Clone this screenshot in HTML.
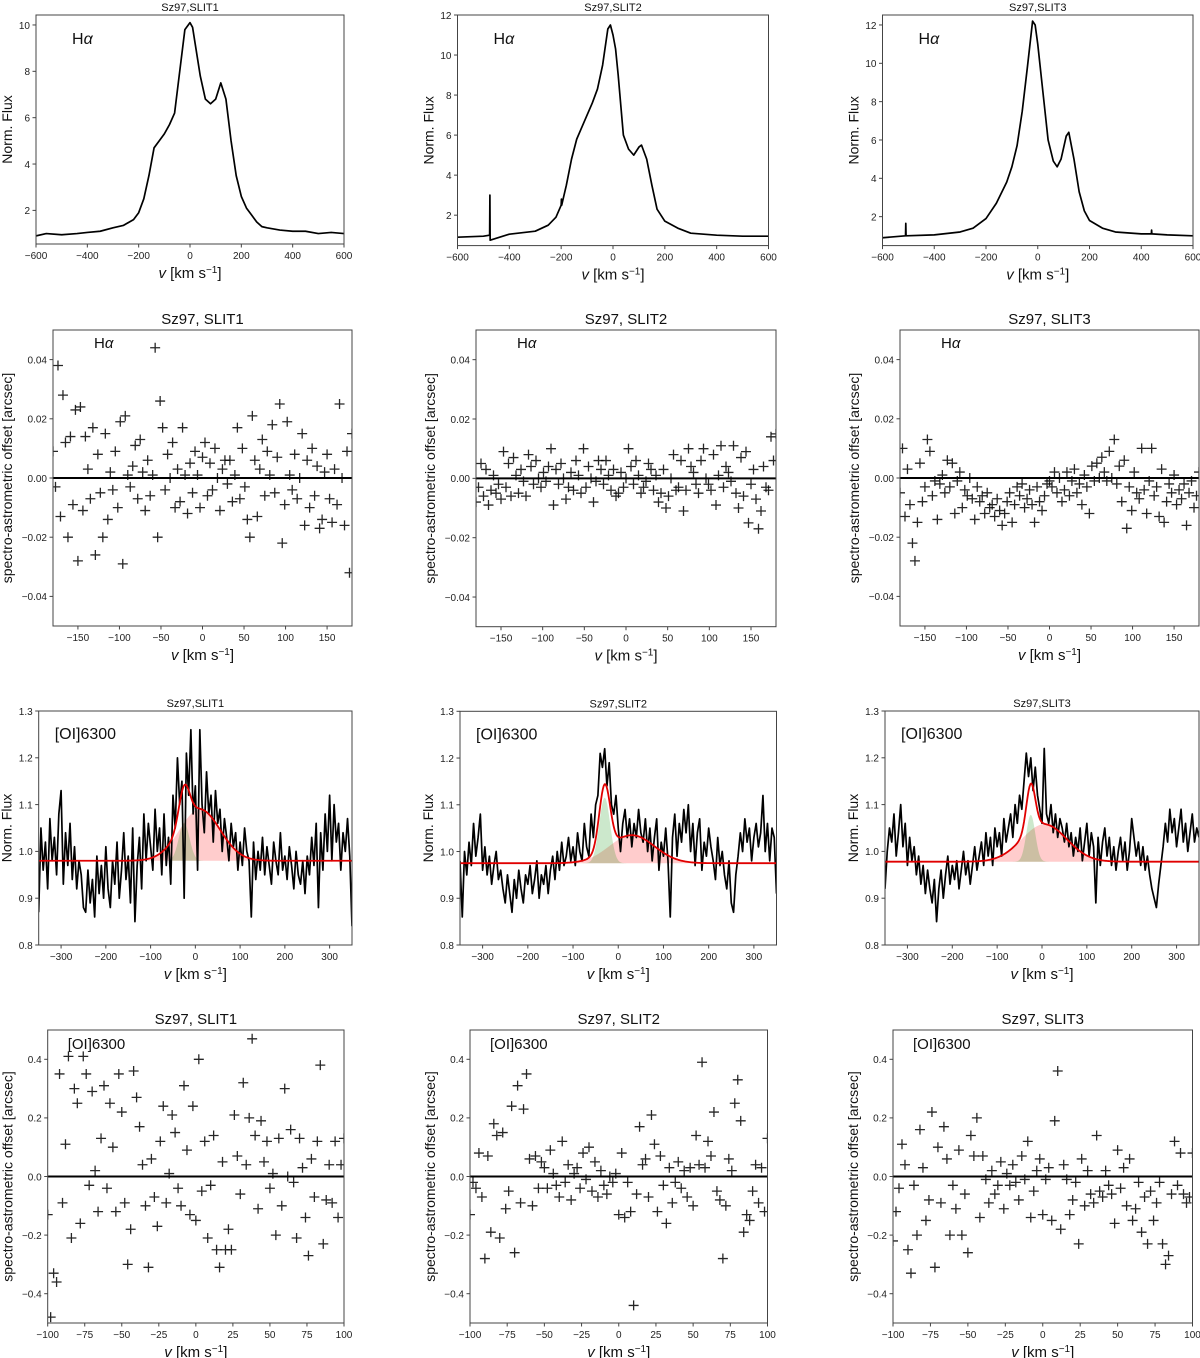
<!DOCTYPE html>
<html><head><meta charset="utf-8"><title>Sz97 spectra</title>
<style>html,body{margin:0;padding:0;background:#fff}svg{display:block;font-family:"Liberation Sans","DejaVu Sans",sans-serif}</style>
</head><body>
<svg id="fig" width="1200" height="1358" viewBox="0 0 1200 1358" xmlns="http://www.w3.org/2000/svg"></svg>
<script>
// ---------- DATA ----------
// H-alpha profiles (velocity km/s, normalized flux)
const haV1=[-600,-560,-500,-440,-400,-350,-300,-260,-220,-200,-180,-160,-140,-120,-100,-80,-60,-40,-20,0,10,20,40,60,80,100,120,140,160,180,200,220,240,260,280,300,350,400,450,500,550,600];
const haF1=[0.9,1.0,0.95,1.0,1.05,1.1,1.25,1.35,1.6,1.9,2.5,3.5,4.7,5.0,5.3,5.7,6.2,8.0,9.8,10.1,9.9,9.2,7.8,6.8,6.6,6.8,7.5,6.8,5.0,3.5,2.6,2.1,1.8,1.5,1.3,1.25,1.15,1.1,1.1,1.0,1.05,1.0];
const haV2=[-600,-500,-476,-475,-474,-400,-300,-250,-220,-200,-199,-198,-180,-160,-140,-120,-100,-80,-60,-40,-20,-10,0,10,20,40,60,80,100,110,130,150,170,200,250,300,400,500,600];
const haF2=[0.9,0.95,1.0,3.0,0.75,1.05,1.2,1.5,1.9,2.5,2.8,2.5,3.5,4.8,5.8,6.4,7.0,7.6,8.3,9.5,11.3,11.5,11.0,10.3,9.0,6.0,5.3,5.0,5.4,5.5,4.8,3.5,2.3,1.7,1.35,1.1,1.0,0.95,0.95];
const haV3=[-600,-511,-510,-509,-400,-300,-250,-200,-160,-120,-100,-80,-60,-40,-20,-10,0,20,40,60,75,90,110,120,140,160,180,200,250,300,400,439,440,441,500,600];
const haF3=[0.9,1.0,1.65,1.0,1.05,1.2,1.4,1.9,2.7,3.8,4.6,5.7,7.5,9.8,12.2,12.0,11.0,8.5,6.0,4.9,4.6,5.0,6.2,6.4,5.0,3.3,2.3,1.8,1.4,1.2,1.1,1.1,1.3,1.1,1.05,1.0];

// H-alpha spectro-astrometry: v from -180 step 3 (km/s), offsets in milli-arcsec
const saHaStart=-180, saHaStep=3;
const saHa1=[9,-3,38,-13,28,12,-20,14,-9,23,-28,24,-11,14,3,-7,17,-26,8,-5,-20,15,-14,2,-4,9,-10,19,-29,21,1,-3,4,11,-7,13,2,-11,6,-6,1,44,-20,26,17,-4,8,0,12,-10,3,-8,17,1,-12,5,-5,9,1,-10,7,12,-6,5,-4,10,0,-11,3,6,-2,6,-8,1,17,-7,10,-3,-14,-20,21,6,-13,3,13,-6,9,1,18,-5,7,25,-22,-9,19,1,-4,8,-7,0,15,-16,6,-10,10,-6,4,-17,-14,2,8,-7,-15,3,-9,25,0,-16,9,-32,15];
const saHa2=[-8,-3,5,-6,3,-9,-4,1,-5,-2,-7,9,-3,5,-6,7,1,-5,3,-1,-6,8,4,-2,6,0,-3,2,-1,4,10,-9,3,-2,5,0,-7,-3,2,-4,6,1,-5,10,-3,4,0,-8,-1,6,3,-2,6,1,-4,3,-6,-5,2,-3,0,10,4,-2,6,1,-5,-3,-1,5,3,-4,1,-8,-5,3,-10,-6,0,8,-4,-3,6,-11,-4,10,4,2,-2,-5,6,10,0,-2,-4,8,-9,1,11,-3,4,2,-1,11,-5,-10,7,-6,9,-15,-2,3,-7,-17,-11,4,-3,-4,14,6,15];
const saHa3=[-5,10,-13,3,-9,-22,-28,-15,5,-8,-3,13,9,-6,-1,-14,-2,1,-5,6,-3,5,-12,-1,2,-10,-4,-6,0,-7,-14,-3,-8,-6,-12,-5,-10,-9,-13,-7,-11,-16,-12,-8,-5,-15,-9,-3,-6,-2,-10,-7,-4,-9,-15,-3,-8,-11,-6,-2,-1,-3,2,-5,0,-8,-4,2,-6,-1,3,-5,-2,-9,1,-3,-12,4,-1,5,0,7,2,-1,9,0,13,-2,4,-8,6,-17,-3,-11,2,-5,-7,10,-4,-12,-1,10,-6,-3,-13,3,-15,-8,-2,-5,1,-9,-4,-7,-2,-16,-5,-1,-10,-6,2];

// [OI]6300 spectra: v from -350 step 5
const oiStart=-350, oiStep=5;
const oiF1=[0.87,1.05,0.96,1.02,0.92,1.07,0.98,1.03,0.95,1.08,1.13,0.93,1.04,0.97,1.06,0.94,1.01,0.92,0.98,0.95,0.88,0.87,0.96,0.89,0.94,0.86,0.99,0.91,0.97,0.90,1.01,0.92,0.88,0.98,0.93,1.02,0.90,0.96,1.04,0.94,0.99,0.89,1.05,0.85,0.97,1.03,0.92,1.08,0.98,1.06,1.01,0.96,1.09,1.00,1.05,0.95,1.08,0.97,1.03,0.93,1.12,1.05,1.20,1.10,1.15,0.90,1.21,1.12,1.26,1.08,1.14,0.96,1.26,1.10,1.04,1.17,1.08,1.12,1.02,1.13,1.06,1.09,1.00,1.07,1.03,0.98,1.06,1.01,1.04,0.96,1.02,0.97,1.05,1.00,0.98,0.86,1.02,0.94,1.00,0.96,1.03,0.95,1.01,0.97,0.93,1.02,0.98,0.95,1.04,0.96,0.99,0.94,1.01,0.97,0.92,1.00,0.95,0.93,0.98,0.91,0.99,0.95,1.03,0.97,1.06,0.88,1.04,0.96,1.08,1.00,1.12,0.98,1.10,1.02,1.06,0.96,1.04,1.00,1.07,0.99,0.84];
const oiF2=[0.98,0.86,1.00,0.95,1.02,0.97,1.06,0.99,1.03,1.08,0.96,1.01,0.95,0.99,0.93,0.97,1.00,0.94,0.96,0.92,0.89,0.95,0.91,0.87,0.94,0.90,0.96,0.92,0.89,0.95,0.93,0.97,0.91,0.94,0.98,0.90,0.95,0.93,0.97,0.91,0.96,0.99,0.94,1.00,0.96,1.02,0.97,0.99,1.03,0.98,1.01,0.97,1.04,1.00,0.98,1.06,1.01,0.99,1.08,1.03,1.10,1.12,1.21,1.18,1.22,1.14,1.19,1.10,1.08,1.12,1.05,1.00,1.06,1.09,1.03,1.07,1.01,1.06,1.03,1.09,1.04,1.02,1.07,1.00,1.05,0.98,1.03,1.07,0.96,1.02,0.99,1.05,0.98,0.86,1.03,1.08,0.99,1.06,1.02,1.09,1.04,1.10,1.00,1.06,0.97,1.04,1.07,0.96,1.02,0.99,1.05,1.01,0.98,0.94,1.03,0.97,1.00,0.95,0.92,0.98,0.89,0.87,0.95,0.99,1.04,1.00,1.07,1.02,1.05,0.98,1.03,1.06,1.01,1.04,1.12,1.00,1.06,0.98,1.05,1.03,0.91];
const oiF3=[0.92,1.00,1.05,1.02,1.08,0.99,1.04,1.10,1.01,1.06,0.97,1.03,0.98,1.01,0.95,0.99,0.93,0.97,0.91,0.96,0.92,0.89,0.94,0.85,0.92,0.96,0.90,0.95,0.99,0.93,0.97,0.94,0.98,0.92,0.96,1.00,0.95,0.98,0.93,0.97,1.01,0.96,0.99,1.02,0.97,1.04,0.99,1.03,0.97,1.05,1.01,1.04,0.99,1.07,1.02,1.05,1.08,1.03,1.10,1.06,1.12,1.09,1.15,1.21,1.16,1.20,1.13,1.18,1.12,1.09,1.06,1.22,1.08,1.06,1.10,1.04,1.08,1.03,1.07,1.05,1.02,1.06,1.01,1.04,0.99,1.03,1.00,1.05,0.98,1.02,1.06,0.99,1.04,1.01,0.89,1.03,0.97,1.02,1.05,0.99,1.03,0.97,1.01,0.96,1.00,1.03,0.98,1.02,0.96,1.00,1.07,1.03,0.99,1.02,0.97,1.01,0.96,0.99,0.95,0.92,0.90,0.88,0.93,0.97,1.01,1.06,1.02,1.09,1.04,1.07,1.01,1.05,1.09,1.02,1.06,1.00,1.04,1.08,1.02,1.05,1.03];
// Gaussian fit components: continuum, [amp, center, sigma] narrow & broad
const oiCont=[0.98,0.975,0.978];
const oiNarrow=[[0.08,-25,12],[0.14,-30,12],[0.10,-25,10]];
const oiBroad=[[0.11,10,45],[0.06,30,50],[0.08,5,50]];

// [OI] spectro-astrometry: v from -100 step 2, offsets in units of 0.01 arcsec
const saOiStart=-100, saOiStep=2;
const saOi1=[-13,-48,-33,-36,35,-9,11,41,-21,30,25,-16,41,35,-3,29,2,-12,13,31,-4,25,10,-12,35,22,-9,-30,-18,36,27,17,4,-10,-31,6,-7,-17,12,24,-9,1,21,15,-4,-10,31,9,-13,24,-15,40,-5,12,-21,-3,14,-25,-31,5,-25,-18,-25,21,7,-6,32,4,20,47,14,-11,19,5,12,-4,1,-20,13,-10,30,0,16,-2,-21,13,3,-14,-27,6,-7,12,38,-23,-8,4,-9,12,-14,4,13];
const saOi2=[-13,-2,-4,8,-7,-28,7,-19,18,14,-21,15,-11,-5,24,-26,31,-9,23,35,6,-10,7,-4,5,3,-4,9,1,-3,-7,12,-2,4,-8,1,3,-4,8,-1,10,-5,5,-7,2,-3,-6,0,-2,1,-13,8,-14,-2,-12,-44,-6,17,4,6,-7,21,11,-12,7,-3,-16,3,-9,-2,5,-4,2,-7,3,-10,14,4,39,3,12,7,22,-5,-8,-28,-10,6,2,25,33,19,-19,-13,-15,-5,4,-9,3,-12,13];
const saOi3=[-22,-12,-4,11,4,-25,-33,-3,-20,16,3,-15,-8,22,-31,10,-9,17,6,-20,-3,-11,9,-20,-6,-26,14,7,20,-14,7,-1,-9,2,-6,-3,5,-11,1,-3,4,-2,-8,7,-1,12,-14,-5,2,6,-13,-1,3,-15,19,36,-18,4,-1,-13,-8,-2,-23,6,-10,2,-6,-9,14,-5,-7,2,-3,-6,-16,9,-4,3,-10,6,-15,-11,-2,-19,-7,-23,-5,-15,-9,-2,-23,-30,-27,-6,12,-3,8,-6,-9,-7,8];

// tick label arrays
const xtHa=[-600,-400,-200,0,200,400,600];
const ytHa1=[2,4,6,8,10], ytHa2=[2,4,6,8,10,12];
const xtSaHa=[-150,-100,-50,0,50,100,150];
const ytSaHa=[-0.04,-0.02,0.00,0.02,0.04];
const xtOi=[-300,-200,-100,0,100,200,300];
const ytOi=[0.8,0.9,1.0,1.1,1.2,1.3];
const xtSaOi=[-100,-75,-50,-25,0,25,50,75,100];
const ytSaOi=[-0.4,-0.2,0.0,0.2,0.4];
const slits=["SLIT1","SLIT2","SLIT3"];

// ---------- RENDER ----------
const NS="http://www.w3.org/2000/svg";
const svg=document.getElementById('fig');
function mk(tag,attrs,parent){const e=document.createElementNS(NS,tag);for(const k in attrs)e.setAttribute(k,attrs[k]);(parent||svg).appendChild(e);return e;}
function fmt(v,d){const s=v.toFixed(d);return s.replace('-','\u2212');}

function axes(p){
  const g=mk('g',{});
  
  
  const sx=v=>p.x0+(v-p.xr[0])/(p.xr[1]-p.xr[0])*(p.x1-p.x0);
  const sy=v=>p.y1-(v-p.yr[0])/(p.yr[1]-p.yr[0])*(p.y1-p.y0);
  p.sx=sx;p.sy=sy;p.g=g;
  const cp=mk('clipPath',{id:'c'+p.id},g);
  mk('rect',{x:p.x0,y:p.y0,width:p.x1-p.x0,height:p.y1-p.y0},cp);
  p.plot=mk('g',{'clip-path':'url(#c'+p.id+')'},g);
  
  
  return p;
}
function frame(p){
  const g=p.g;
  const fr=mk('rect',{x:p.x0,y:p.y0,width:p.x1-p.x0,height:p.y1-p.y0,fill:'none',stroke:'#444','stroke-width':1},g);
  
  
  const xg=mk('g',{},g);
  
  
  p.xt.forEach(v=>{const x=p.sx(v);
    mk('line',{x1:x,x2:x,y1:p.y1,y2:p.y1+3.5,stroke:'#444'},xg);
    const t=mk('text',{x:x,y:p.y1+15,'font-size':p.tfs,'text-anchor':'middle',fill:'#222'},xg);
    
    
    t.textContent=fmt(v,0);});
  const yg=mk('g',{},g);
  
  
  p.yt.forEach(v=>{const y=p.sy(v);
    mk('line',{x1:p.x0-3.5,x2:p.x0,y1:y,y2:y,stroke:'#444'},yg);
    const t=mk('text',{x:p.x0-6,y:y+3.8,'font-size':p.tfs,'text-anchor':'end',fill:'#222'},yg);
    
    
    t.textContent=fmt(v,p.yd);});
  const tt=mk('text',{x:(p.x0+p.x1)/2,y:p.y0-p.tOff,'font-size':p.titleFs,'text-anchor':'middle',fill:'#111'},g);
  
  
  tt.textContent=p.title;
  const xl=mk('text',{x:(p.x0+p.x1)/2,y:p.y1+34,'font-size':15,'text-anchor':'middle',fill:'#111'},g);
  
  
  xl.innerHTML='<tspan font-style="italic">v</tspan> [km s<tspan baseline-shift="super" font-size="10">\u22121</tspan>]';
  const yx=p.x0-p.ylOff, yc=(p.y0+p.y1)/2;
  const yl=mk('text',{x:yx,y:yc,'font-size':p.ylFs,'text-anchor':'middle',fill:'#111',transform:`rotate(-90 ${yx} ${yc})`},g);
  
  
  yl.textContent=p.ylabel;
  const lb=mk('text',{x:p.x0+p.lx,y:p.y0+p.ly,'font-size':p.lfs,fill:'#111'},g);
  
  
  lb.innerHTML=p.label;
}
function line(p,xs,ys,color,w,name){
  const d=xs.map((v,i)=>(i?'L':'M')+p.sx(v).toFixed(2)+' '+p.sy(ys[i]).toFixed(2)).join('');
  const e=mk('path',{d:d,fill:'none',stroke:color,'stroke-width':w,'stroke-linejoin':'round'},p.plot);
  
  
}
function crosses(p,start,step,vals,scale,name){
  const g=mk('g',{stroke:'#000','stroke-width':1.3,'stroke-opacity':0.85},p.plot);
  
  
  vals.forEach((v,i)=>{const x=p.sx(start+i*step),y=p.sy(v*scale),s=5;
    const e=mk('path',{d:`M${x-s} ${y}H${x+s}M${x} ${y-s}V${y+s}`},g);
    
    });
}
function zero(p){
  const e=mk('line',{x1:p.x0,x2:p.x1,y1:p.sy(0),y2:p.sy(0),stroke:'#000','stroke-width':2},p.plot);
  
  
}
const gauss=(c,v)=>c[0]*Math.exp(-((v-c[1])**2)/(2*c[2]*c[2]));

let pid=0;
// Row 1: H-alpha profiles
const r1=[[36,15,344,244,[0.55,10.43],ytHa1],[457.5,15,768.5,245.6,[0.48,12],ytHa2],[882.5,15,1193,245.6,[0.49,12.52],ytHa2]];
const haV=[haV1,haV2,haV3], haF=[haF1,haF2,haF3];
r1.forEach((b,i)=>{
  const p=axes({id:pid++,name:'halpha-profile-'+slits[i].toLowerCase(),x0:b[0],y0:b[1],x1:b[2],y1:b[3],xr:[-600,600],yr:b[4],xt:xtHa,yt:b[5],yd:0,tfs:10,
    title:'Sz97,'+slits[i],titleFs:11,tOff:4,ylabel:'Norm. Flux',ylFs:14,ylOff:24,label:'H<tspan font-style="italic">\u03b1</tspan>',lx:36,ly:29,lfs:16});
  line(p,haV[i],haF[i],'#000',1.7,'halpha-line');
  frame(p);
});
// Row 2: H-alpha spectro-astrometry
const r2=[[53,330,352,626],[476,330,776,626.7],[900,330,1199,626]];
const saHa=[saHa1,saHa2,saHa3];
r2.forEach((b,i)=>{
  const p=axes({id:pid++,name:'halpha-offset-'+slits[i].toLowerCase(),x0:b[0],y0:b[1],x1:b[2],y1:b[3],xr:[-180,180],yr:[-0.05,0.05],xt:xtSaHa,yt:ytSaHa,yd:2,tfs:10,
    title:'Sz97, '+slits[i],titleFs:15,tOff:6,ylabel:'spectro-astrometric offset [arcsec]',ylFs:14,ylOff:41,label:'H<tspan font-style="italic">\u03b1</tspan>',lx:41,ly:18,lfs:15});
  zero(p);
  crosses(p,saHaStart,saHaStep,saHa[i],0.001,'offset-points');
  frame(p);
});
// Row 3: [OI] profiles
const r3=[[38.7,711,352,945],[460,711.3,776.5,945],[885,711,1199,945]];
const oiF=[oiF1,oiF2,oiF3];
r3.forEach((b,i)=>{
  const p=axes({id:pid++,name:'oi-profile-'+slits[i].toLowerCase(),x0:b[0],y0:b[1],x1:b[2],y1:b[3],xr:[-350,350],yr:[0.8,1.3],xt:xtOi,yt:ytOi,yd:1,tfs:10,
    title:'Sz97,'+slits[i],titleFs:11,tOff:4,ylabel:'Norm. Flux',ylFs:14,ylOff:27,label:'[OI]6300',lx:16,ly:28,lfs:16});
  const vs=oiF[i].map((_,k)=>oiStart+k*oiStep);
  const c=oiCont[i];
  [[oiBroad[i],'rgba(255,0,0,0.2)','broad-component'],[oiNarrow[i],'rgba(0,140,0,0.2)','narrow-component']].forEach(([comp,col,nm])=>{
    const xs=[],ys=[];for(let v=comp[1]-4*comp[2];v<=comp[1]+4*comp[2];v+=1){xs.push(v);ys.push(c+gauss(comp,v));}
    let d='M'+p.sx(xs[0])+' '+p.sy(c);xs.forEach((v,k)=>d+='L'+p.sx(v).toFixed(2)+' '+p.sy(ys[k]).toFixed(2));d+='L'+p.sx(xs[xs.length-1])+' '+p.sy(c)+'Z';
    const e=mk('path',{d:d,fill:col,stroke:'none'},p.plot);
    
    
  });
  line(p,vs,oiF[i],'#000',1.7,'oi-spectrum');
  const fx=[],fy=[];for(let v=-350;v<=350;v+=2){fx.push(v);fy.push(c+gauss(oiNarrow[i],v)+gauss(oiBroad[i],v));}
  line(p,fx,fy,'#e00000',1.8,'fit-curve');
  frame(p);
});
// Row 4: [OI] spectro-astrometry
const r4=[[47.7,1030,344,1323],[470,1030,767.5,1323],[893,1030,1192.5,1323]];
const saOi=[saOi1,saOi2,saOi3];
r4.forEach((b,i)=>{
  const p=axes({id:pid++,name:'oi-offset-'+slits[i].toLowerCase(),x0:b[0],y0:b[1],x1:b[2],y1:b[3],xr:[-100,100],yr:[-0.5,0.5],xt:xtSaOi,yt:ytSaOi,yd:1,tfs:10,
    title:'Sz97, '+slits[i],titleFs:15,tOff:6,ylabel:'spectro-astrometric offset [arcsec]',ylFs:14,ylOff:35,label:'[OI]6300',lx:20,ly:19,lfs:15});
  zero(p);
  crosses(p,saOiStart,saOiStep,saOi[i],0.01,'offset-points');
  frame(p);
});
</script>
</body></html>
